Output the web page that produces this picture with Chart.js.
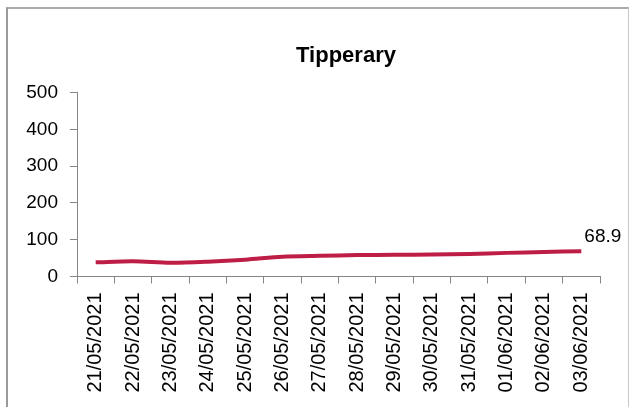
<!DOCTYPE html>
<html>
<head>
<meta charset="utf-8">
<script src="https://cdn.jsdelivr.net/npm/chart.js@4"></script>
<style>
  html, body { margin: 0; padding: 0; background: #fff; }
  #wrap { position: relative; width: 629px; height: 407px; overflow: hidden; }
  #frame { position: absolute; left: 6px; top: 7px; width: 620px; height: 420px;
           border-top: 2px solid #ababab; border-left: 2px solid #9a9a9a; border-right: 1px solid #c8c8c8; }
  canvas { position: absolute; left: 0; top: 0; }
</style>
</head>
<body>
<div id="wrap">
  <div id="frame"></div>
  <canvas id="chart" width="629" height="407"></canvas>
</div>
<script>
const dates = ['21/05/2021', '22/05/2021', '23/05/2021', '24/05/2021', '25/05/2021', '26/05/2021', '27/05/2021',
    '28/05/2021', '29/05/2021', '30/05/2021', '31/05/2021', '01/06/2021', '02/06/2021', '03/06/2021'];
const values = [38.6, 41.5, 37.5, 40.3, 45.7, 53.8, 56.3, 58.2, 59.0, 59.8, 61.0, 64.2, 66.5, 68.9];
const yTicks = [0, 100, 200, 300, 400, 500];
const chartTitle = 'Tipperary';

const axisColor = '#868686';
const font = 'Liberation Sans';

// title sits off-centre in the original, so draw it by hand
// and label only the last point
const extras = {
    id: 'extras',
    afterDatasetsDraw(chart) {
        const meta = chart.getDatasetMeta(0);
        const pt = meta.data[meta.data.length - 1];
        const ctx = chart.ctx;
        ctx.save();
        ctx.fillStyle = '#000';
        ctx.font = 'bold 22px ' + font;
        ctx.textAlign = 'center';
        ctx.textBaseline = 'alphabetic';
        ctx.fillText(chartTitle, 346, 62);
        ctx.font = '19px ' + font;
        ctx.textAlign = 'left';
        ctx.fillText(values[values.length - 1].toFixed(1), pt.x + 3, pt.y - 9);
        ctx.restore();
    }
};

const ctx = document.getElementById('chart').getContext('2d');
new Chart(ctx, {
    type: 'line',
    data: {
        labels: dates,
        datasets: [{
            data: values,
            borderColor: '#be1e46',
            borderWidth: 4,
            pointRadius: 0,
            tension: 0.3,
            fill: false
        }]
    },
    options: {
        responsive: false,
        animation: false,
        layout: { padding: { left: 0, right: 29, top: 92.5, bottom: 0 } },
        plugins: {
            legend: { display: false },
            tooltip: { enabled: false },
            title: { display: false }
        },
        scales: {
            x: {
                offset: true,
                afterFit(scale) { scale.height = 130.5; },
                grid: { display: true, offset: true, drawOnChartArea: false, tickLength: 7, color: axisColor },
                border: { color: axisColor, width: 1 },
                ticks: {
                    autoSkip: false, minRotation: 90, maxRotation: 90, padding: 9,
                    color: '#000', font: { family: font, size: 20 }
                }
            },
            y: {
                min: 0,
                max: 500,
                afterFit(scale) { scale.width = 77; },
                afterBuildTicks(scale) { scale.ticks = yTicks.map(v => ({ value: v })); },
                grid: { display: true, drawOnChartArea: false, tickLength: 7, color: axisColor },
                border: { color: axisColor, width: 1 },
                ticks: { padding: 12, color: '#000', font: { family: font, size: 19 } }
            }
        }
    },
    plugins: [extras]
});
</script>
</body>
</html>
